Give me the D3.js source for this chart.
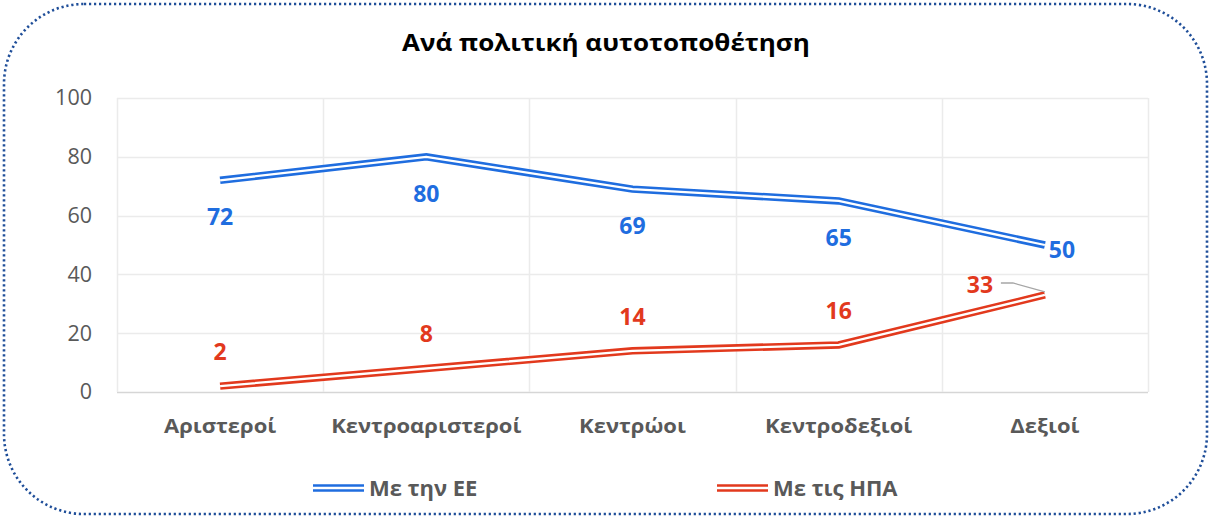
<!DOCTYPE html>
<html>
<head>
<meta charset="utf-8">
<script src="https://cdn.jsdelivr.net/npm/d3@7/dist/d3.min.js"></script>
<style>
  html, body { margin: 0; padding: 0; background: #fff; }
  svg { display: block; font-family: "Open Sans", "Noto Sans", sans-serif; }
</style>
</head>
<body>
<svg id="chart" width="1211" height="518"></svg>
<script>
// Data
const categories = ["Αριστεροί", "Κεντροαριστεροί", "Κεντρώοι", "Κεντροδεξιοί", "Δεξιοί"];
const euValues = [72, 80, 69, 65, 50];
const usValues = [2, 8, 14, 16, 33];
const yTicks = [0, 20, 40, 60, 80, 100];
const seriesNames = ["Με την ΕΕ", "Με τις ΗΠΑ"];
const title = "Ανά πολιτική αυτοτοποθέτηση";

const W = 1211, H = 518;
const plot = { left: 117, right: 1148, top: 98, bottom: 392 };
const svg = d3.select("#chart");

const euColor = "#1f6ddf";
const usColor = "#e2391d";
const gridColor = "#ebebeb";
const textGrey = "#595959";

// Rounded dotted frame
svg.append("rect")
  .attr("x", 4).attr("y", 4)
  .attr("width", W - 8).attr("height", H - 8)
  .attr("rx", 80).attr("ry", 80)
  .attr("fill", "none")
  .attr("stroke", "#1f4e99")
  .attr("stroke-width", 2.6)
  .attr("stroke-dasharray", "2.2,2.8");

// Title (slightly widened glyphs)
svg.append("text")
  .attr("transform", "translate(606,51) scale(1.13,1)")
  .attr("text-anchor", "middle")
  .attr("font-size", 23).attr("font-weight", 700)
  .attr("fill", "#000")
  .text(title);

const x = d3.scaleBand()
  .domain(categories)
  .range([plot.left, plot.right])
  .padding(0);
const y = d3.scaleLinear()
  .domain([0, 100])
  .range([plot.bottom, plot.top]);

const g = svg.append("g");

// Horizontal gridlines
g.selectAll(".hgrid").data(yTicks).enter().append("line")
  .attr("x1", plot.left).attr("x2", plot.right)
  .attr("y1", d => Math.round(y(d)) + 0.5).attr("y2", d => Math.round(y(d)) + 0.5)
  .attr("stroke", d => d === 0 ? "#d6d6d6" : gridColor)
  .attr("stroke-width", 1.5);

// Vertical gridlines at category boundaries
const bounds = categories.map(c => x(c)).concat([x(categories[categories.length - 1]) + x.bandwidth()]);
g.selectAll(".vgrid").data(bounds).enter().append("line")
  .attr("x1", d => Math.round(d) + 0.5).attr("x2", d => Math.round(d) + 0.5)
  .attr("y1", y(100)).attr("y2", y(0))
  .attr("stroke", gridColor)
  .attr("stroke-width", 1.5);

// Y axis labels
const yAxis = d3.axisLeft(y).tickValues(yTicks).tickSize(0).tickPadding(0);
const ya = svg.append("g").attr("transform", "translate(92,0)").call(yAxis);
ya.select(".domain").remove();
ya.selectAll("text")
  .attr("font-size", 21.5)
  .attr("fill", textGrey)
  .attr("font-family", "Open Sans, sans-serif");

// X axis labels
const xAxis = d3.axisBottom(x).tickSize(0).tickPadding(0);
const xa = svg.append("g").attr("transform", "translate(0,419)").call(xAxis);
xa.select(".domain").remove();
xa.selectAll(".tick text")
  .attr("font-size", 20)
  .attr("font-weight", 700)
  .attr("fill", textGrey)
  .attr("font-family", "Open Sans, sans-serif")
  .attr("transform", "scale(1.1,1)");

const cx = c => x(c) + x.bandwidth() / 2;
const line = d3.line().x(d => cx(d.c)).y(d => y(d.v));

// Double-stroke line: coloured wide stroke with a thin white core
function doubleLine(values, color) {
  const pts = categories.map((c, i) => ({ c, v: values[i] }));
  svg.append("path").datum(pts)
    .attr("d", line).attr("fill", "none")
    .attr("stroke", color).attr("stroke-width", 7.5)
    .attr("stroke-linejoin", "miter");
  svg.append("path").datum(pts)
    .attr("d", line).attr("fill", "none")
    .attr("stroke", "#fff").attr("stroke-width", 2.3)
    .attr("stroke-linejoin", "miter");
}
doubleLine(euValues, euColor);
doubleLine(usValues, usColor);

// Data labels
const lbl = svg.append("g")
  .attr("font-size", 23).attr("font-weight", 700)
  .attr("text-anchor", "middle");

categories.forEach((c, i) => {
  const last = i === categories.length - 1;
  // EU labels below the line, last one to the right
  lbl.append("text")
    .attr("x", last ? cx(c) + 17 : cx(c))
    .attr("y", last ? y(euValues[i]) + 13 : y(euValues[i]) + 45)
    .attr("fill", euColor)
    .text(euValues[i]);
  // US labels above the line, last one moved left with a leader
  lbl.append("text")
    .attr("x", last ? cx(c) - 65 : cx(c))
    .attr("y", last ? y(usValues[i]) - 2 : y(usValues[i]) - 26)
    .attr("fill", usColor)
    .text(usValues[i]);
});

// Leader line for the last US label
const lastC = categories[categories.length - 1];
const lx = cx(lastC), ly = y(usValues[usValues.length - 1]);
svg.append("path")
  .attr("d", `M${lx - 44},${ly - 12} L${lx - 32},${ly - 12} L${lx},${ly - 3}`)
  .attr("fill", "none")
  .attr("stroke", "#a6a6a6")
  .attr("stroke-width", 1.3);

// Legend
const legend = svg.append("g");
const legendItems = [
  { name: seriesNames[0], color: euColor, x: 313 },
  { name: seriesNames[1], color: usColor, x: 717 }
];
legendItems.forEach(it => {
  legend.append("line")
    .attr("x1", it.x).attr("x2", it.x + 51)
    .attr("y1", 488).attr("y2", 488)
    .attr("stroke", it.color).attr("stroke-width", 7.5);
  legend.append("line")
    .attr("x1", it.x).attr("x2", it.x + 51)
    .attr("y1", 488).attr("y2", 488)
    .attr("stroke", "#fff").attr("stroke-width", 2.3);
  legend.append("text")
    .attr("x", it.x + 56).attr("y", 496)
    .attr("font-size", 22).attr("font-weight", 700)
    .attr("fill", textGrey)
    .text(it.name);
});
</script>
</body>
</html>
